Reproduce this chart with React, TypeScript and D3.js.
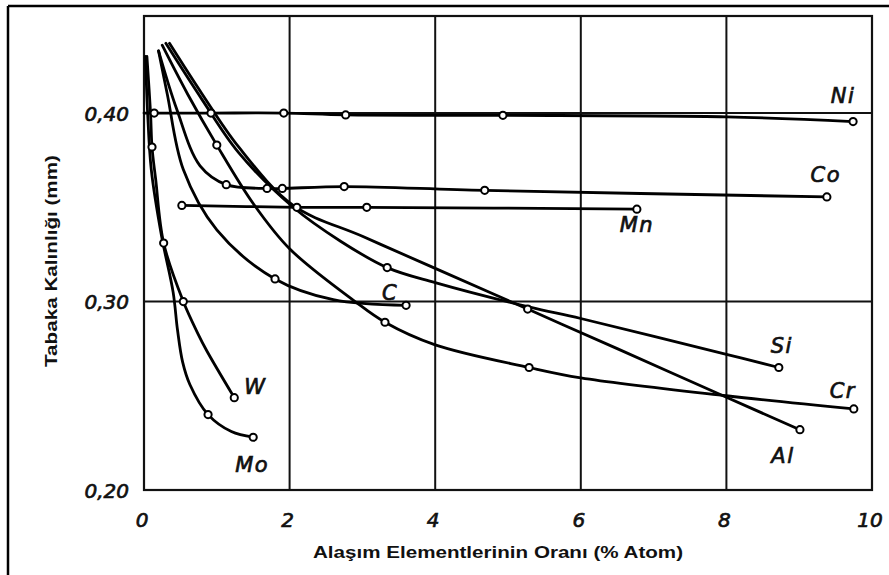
import React from "react";
import * as d3 from "d3";

// Layer thickness (mm) against alloying element content (% atom).
// Each row: [content, thickness, hasMarker]
const ni: [number, number, number][] = [
  [0.0, 0.4, 0], [0.14, 0.4, 1], [0.92, 0.4, 1], [1.92, 0.4, 1], [2.77, 0.399, 1],
  [4.93, 0.3988, 1], [8.0, 0.398, 0], [9.74, 0.3955, 1],
];
const co: [number, number, number][] = [
  [0.2, 0.433, 0], [0.45, 0.402, 0], [0.77, 0.372, 0], [1.13, 0.362, 1], [1.69, 0.360, 1],
  [1.9, 0.360, 1], [2.75, 0.361, 1], [4.68, 0.359, 1], [9.38, 0.3555, 1],
];
const mn: [number, number, number][] = [
  [0.52, 0.351, 1], [2.1, 0.350, 1], [3.06, 0.350, 1], [6.77, 0.349, 1],
];
const cCarbon: [number, number, number][] = [
  [0.2, 0.433, 0], [0.32, 0.41, 0], [0.54, 0.37, 0], [1.0, 0.338, 0], [1.8, 0.312, 1],
  [2.6, 0.301, 0], [3.6, 0.298, 1],
];
const cr: [number, number, number][] = [
  [0.25, 0.436, 0], [0.6, 0.41, 0], [1.0, 0.383, 1], [1.5, 0.352, 0], [2.0, 0.328, 0],
  [2.9, 0.30, 0], [3.31, 0.289, 1], [4.0, 0.277, 0], [5.29, 0.265, 1], [6.0, 0.2595, 0],
  [8.0, 0.250, 0], [9.75, 0.243, 1],
];
const al: [number, number, number][] = [
  [0.35, 0.437, 0], [0.8, 0.41, 0], [1.3, 0.382, 0], [2.05, 0.351, 0], [3.0, 0.3346, 0],
  [4.0, 0.3176, 0], [5.27, 0.296, 1], [6.5, 0.275, 0], [8.0, 0.2492, 0], [9.01, 0.232, 1],
];
const si: [number, number, number][] = [
  [0.3, 0.437, 0], [0.8, 0.407, 0], [1.3, 0.379, 0], [2.05, 0.350, 0], [2.7, 0.332, 0],
  [3.34, 0.318, 1], [4.0, 0.31, 0], [5.3, 0.297, 0], [6.0, 0.291, 0], [8.0, 0.272, 0],
  [8.72, 0.265, 1],
];
const w: [number, number, number][] = [
  [0.04, 0.43, 0], [0.09, 0.40, 0], [0.11, 0.382, 1], [0.16, 0.365, 0], [0.27, 0.331, 1],
  [0.54, 0.30, 1], [0.74, 0.283, 0], [0.86, 0.274, 0], [1.24, 0.249, 1],
];
const mo: [number, number, number][] = [
  [0.02, 0.43, 0], [0.05, 0.40, 0], [0.1, 0.37, 0], [0.24, 0.335, 0], [0.4, 0.305, 0],
  [0.46, 0.285, 0], [0.53, 0.268, 0], [0.63, 0.256, 0], [0.88, 0.240, 1], [1.2, 0.231, 0],
  [1.5, 0.228, 1],
];

const seriesNames = ["Ni", "Co", "Mn", "C", "Si", "Cr", "Al", "W", "Mo"];
const seriesData = [ni, co, mn, cCarbon, si, cr, al, w, mo];

const xTicks = [0, 2, 4, 6, 8, 10];
const yTicks = [0.2, 0.3, 0.4];
const xTitle = "Alaşım Elementlerinin Oranı (% Atom)";
const yTitle = "Tabaka Kalınlığı (mm)";

// Label offsets from each curve's last point, in pixels
const labelOffset: Record<string, [number, number]> = {
  Ni: [-10, -19], Co: [-1, -15], Mn: [0, 23], C: [-16, -5], Si: [3, -14],
  Cr: [-11, -11], Al: [-17, 33], W: [21, -4], Mo: [-1, 35],
};

const W = 889;
const H = 575;
const left = 144, right = 872, top = 16, bottom = 490;

export default function App() {
  const x = d3.scaleLinear().domain([0, 10]).range([left, right]);
  const y = d3.scaleLinear().domain([0.2, 0.4515]).range([bottom, top]);
  const line = d3
    .line<[number, number, number]>()
    .x((d) => x(d[0]))
    .y((d) => y(d[1]))
    .curve(d3.curveCatmullRom.alpha(0.5));

  const italic = {
    fontFamily: "'DejaVu Sans', sans-serif",
    fontStyle: "italic" as const,
    fontWeight: 400,
    fontSize: 20,
    fill: "#111",
    stroke: "#111",
    strokeWidth: 0.7,
  };
  const titleStyle = {
    fontFamily: "'Liberation Sans', Arial, sans-serif",
    fontWeight: 700,
    fontSize: 17,
    fill: "#111",
  };

  return (
    <svg
      width={W}
      height={H}
      viewBox={`0 0 ${W} ${H}`}
      style={{ position: "absolute", left: 0, top: 0, background: "#fff" }}
    >
      <rect x={0} y={0} width={W} height={H} fill="#fff" />
      {/* outer frame */}
      <line x1={8} y1={6} x2={W} y2={6} stroke="#000" strokeWidth={2.5} />
      <line x1={8} y1={6} x2={8} y2={H} stroke="#000" strokeWidth={2.5} />

      {/* grid */}
      {xTicks.slice(1, -1).map((t) => (
        <line key={"gx" + t} x1={x(t)} x2={x(t)} y1={top} y2={bottom} stroke="#111" strokeWidth={2} />
      ))}
      {yTicks.slice(1).map((t) => (
        <line key={"gy" + t} x1={left} x2={right} y1={y(t)} y2={y(t)} stroke="#111" strokeWidth={2} />
      ))}
      <rect x={left} y={top} width={right - left} height={bottom - top} fill="none" stroke="#111" strokeWidth={2.2} />

      {/* curves */}
      {seriesData.map((s, i) => (
        <path key={"p" + i} d={line(s) || ""} fill="none" stroke="#000" strokeWidth={2.8} strokeLinecap="round" />
      ))}
      {seriesData.map((s, i) =>
        s
          .filter((d) => d[2] === 1)
          .map((d, j) => (
            <circle key={"m" + i + "-" + j} cx={x(d[0])} cy={y(d[1])} r={3.6} fill="#fff" stroke="#000" strokeWidth={2} />
          ))
      )}

      {/* series labels */}
      {seriesData.map((s, i) => {
        const last = s[s.length - 1];
        const name = seriesNames[i];
        const off = labelOffset[name];
        return (
          <text key={"l" + i} x={x(last[0]) + off[0]} y={y(last[1]) + off[1]} textAnchor="middle" {...italic} fontSize={21} letterSpacing={1.5}>
            {name}
          </text>
        );
      })}

      {/* tick labels */}
      {yTicks.map((t) => (
        <text key={"yt" + t} x={left - 15} y={y(t)} dy="0.38em" textAnchor="end" {...italic}>
          {d3.format(".2f")(t).replace(".", ",")}
        </text>
      ))}
      {xTicks.map((t) => (
        <text key={"xt" + t} x={x(t) - 2} y={527} textAnchor="middle" {...italic}>
          {t}
        </text>
      ))}

      {/* axis titles */}
      <text x={313} y={558} textLength={370} lengthAdjust="spacingAndGlyphs" style={titleStyle}>
        {xTitle}
      </text>
      <text
        transform="translate(57,367) rotate(-90)"
        textLength={212}
        lengthAdjust="spacingAndGlyphs"
        style={titleStyle}
      >
        {yTitle}
      </text>
    </svg>
  );
}
